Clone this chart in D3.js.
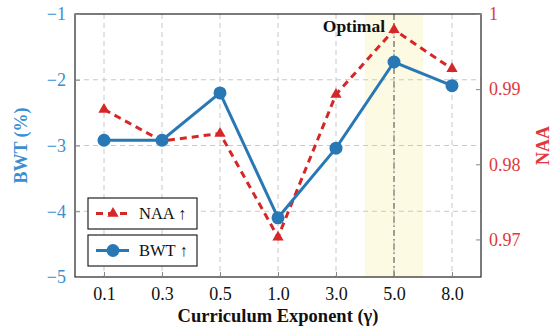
<!DOCTYPE html>
<html>
<head>
<meta charset="utf-8">
<script src="https://cdn.jsdelivr.net/npm/d3@7"></script>
<style>
  body { margin: 0; background: #fff; }
</style>
</head>
<body>
<svg id="chart" width="556" height="326" font-family="Liberation Serif, serif"></svg>
<script>
// data
var exponents = ["0.1", "0.3", "0.5", "1.0", "3.0", "5.0", "8.0"];
var bwt = [-2.92, -2.92, -2.2, -4.1, -3.04, -1.73, -2.09];
var naa = [0.9873, 0.9831, 0.9841, 0.9703, 0.9893, 0.9979, 0.9927];
var bwtTicks = [-5, -4, -3, -2, -1];
var naaTicks = [0.97, 0.98, 0.99, 1];
var optimal = "5.0";

var blue = "#2878b5", red = "#d62728";
var blueTxt = "#3a8fd0", redTxt = "#e0383c";
var serif = "Liberation Serif, serif";

var svg = d3.select("#chart");
var m = {l: 75, r: 481, t: 14, b: 277};

var x = d3.scalePoint().domain(exponents).range([m.l, m.r]).padding(0.5);
var step = x.step();
var yL = d3.scaleLinear().domain([-5, -1]).range([m.b, m.t]);
var yR = d3.scaleLinear().domain([0.965, 1]).range([m.b, m.t]);

// optimal band
svg.append("rect")
  .attr("x", x(optimal) - step / 2).attr("y", m.t)
  .attr("width", step).attr("height", m.b - m.t)
  .attr("fill", "#fdfae3");

// grid
svg.append("g").selectAll("line").data(exponents).enter().append("line")
  .attr("x1", d => x(d)).attr("x2", d => x(d))
  .attr("y1", m.t).attr("y2", m.b)
  .attr("stroke", "#c8c8c8").attr("stroke-dasharray", "5,4").attr("stroke-width", 1);
svg.append("g").selectAll("line").data(bwtTicks.slice(1, -1)).enter().append("line")
  .attr("x1", m.l).attr("x2", m.r)
  .attr("y1", d => yL(d)).attr("y2", d => yL(d))
  .attr("stroke", "#c8c8c8").attr("stroke-dasharray", "5,4").attr("stroke-width", 1);

// optimal dash-dot line
svg.append("line")
  .attr("x1", x(optimal)).attr("x2", x(optimal))
  .attr("y1", m.t).attr("y2", m.b)
  .attr("stroke", "#555").attr("stroke-width", 1)
  .attr("stroke-dasharray", "6,3,1.5,3");

svg.append("text")
  .attr("x", x(optimal) - 9).attr("y", 32)
  .attr("text-anchor", "end").attr("font-weight", "bold").attr("font-size", 17.5)
  .attr("fill", "#111").text("Optimal");

// frame
svg.append("rect")
  .attr("x", m.l).attr("y", m.t).attr("width", m.r - m.l).attr("height", m.b - m.t)
  .attr("fill", "none").attr("stroke", "#222").attr("stroke-width", 1.2);

// axes
var fs = 18;
var gx = svg.append("g").attr("transform", "translate(0," + m.b + ")")
  .call(d3.axisBottom(x).tickSize(-5).tickPadding(10));
gx.select(".domain").remove();
gx.selectAll("line").attr("stroke", "#888");
gx.selectAll("text").attr("font-size", fs).attr("fill", "#111");

var gl = svg.append("g").attr("transform", "translate(" + m.l + ",0)")
  .call(d3.axisLeft(yL).tickValues(bwtTicks).tickSize(-5).tickPadding(9)
    .tickFormat(d => d3.format("")(d).replace("-", "\u2212")));
gl.select(".domain").remove();
gl.selectAll("line").attr("stroke", "#888");
gl.selectAll("text").attr("font-size", fs).attr("fill", blueTxt);

var gr = svg.append("g").attr("transform", "translate(" + m.r + ",0)")
  .call(d3.axisRight(yR).tickValues(naaTicks).tickSize(-5).tickPadding(8)
    .tickFormat(d => d === 1 ? "1" : d3.format(".2f")(d)));
gr.select(".domain").remove();
gr.selectAll("line").attr("stroke", "#888");
gr.selectAll("text").attr("font-size", fs).attr("fill", redTxt);

// axis titles
svg.append("text")
  .attr("transform", "translate(27," + ((m.t + m.b) / 2) + ") rotate(-90)")
  .attr("text-anchor", "middle").attr("font-weight", "bold").attr("font-size", 18)
  .attr("fill", blueTxt).text("BWT (%)");
svg.append("text")
  .attr("transform", "translate(549," + ((m.t + m.b) / 2) + ") rotate(-90)")
  .attr("text-anchor", "middle").attr("font-weight", "bold").attr("font-size", 18)
  .attr("fill", redTxt).text("NAA");
svg.append("text")
  .attr("x", (m.l + m.r) / 2).attr("y", 322)
  .attr("text-anchor", "middle").attr("font-weight", "bold").attr("font-size", 18.5)
  .attr("fill", "#111").text("Curriculum Exponent (\u03b3)");

// NAA series
var triangle = d3.symbol().type(d3.symbolTriangle).size(55);
svg.append("path")
  .datum(exponents.map((e, i) => [x(e), yR(naa[i])]))
  .attr("d", d3.line())
  .attr("fill", "none").attr("stroke", red).attr("stroke-width", 3)
  .attr("stroke-dasharray", "7,5");
svg.append("g").selectAll("path").data(exponents).enter().append("path")
  .attr("transform", (d, i) => "translate(" + x(d) + "," + yR(naa[i]) + ")")
  .attr("d", triangle).attr("fill", red);

// BWT series
svg.append("path")
  .datum(exponents.map((e, i) => [x(e), yL(bwt[i])]))
  .attr("d", d3.line())
  .attr("fill", "none").attr("stroke", blue).attr("stroke-width", 3);
svg.append("g").selectAll("circle").data(exponents).enter().append("circle")
  .attr("cx", d => x(d)).attr("cy", (d, i) => yL(bwt[i]))
  .attr("r", 6.5).attr("fill", blue);

// legends (two separate boxes)
function legendBox(y0, label, isNaa) {
  var g = svg.append("g");
  g.append("rect").attr("x", 88).attr("y", y0).attr("width", 109).attr("height", 31)
    .attr("fill", "#fff").attr("stroke", "#222").attr("stroke-width", 1.2);
  var cy = y0 + 15.5;
  g.append("line").attr("x1", 96).attr("x2", 129).attr("y1", cy).attr("y2", cy)
    .attr("stroke", isNaa ? red : blue).attr("stroke-width", 3)
    .attr("stroke-dasharray", isNaa ? "7,5" : null);
  if (isNaa) {
    g.append("path").attr("transform", "translate(113," + cy + ")")
      .attr("d", triangle).attr("fill", red);
  } else {
    g.append("circle").attr("cx", 113).attr("cy", cy).attr("r", 6.5).attr("fill", blue);
  }
  g.append("text").attr("x", 139).attr("y", cy + 5.5).attr("font-size", 16.5)
    .attr("fill", "#111").text(label);
}
legendBox(198, "NAA \u2191", true);
legendBox(235, "BWT \u2191", false);

// every label in the serif face
svg.selectAll("g").attr("font-family", null);
svg.selectAll("text").attr("font-family", serif);
</script>
</body>
</html>
